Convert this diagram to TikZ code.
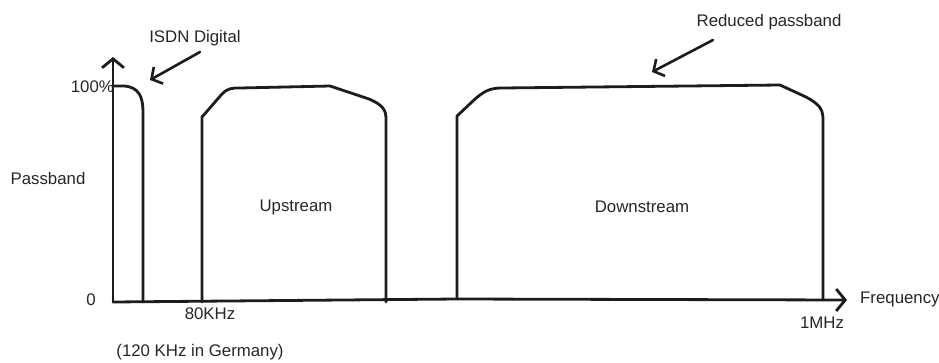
\documentclass[tikz,border=0pt]{standalone}
\usepackage{fontspec}
\setmainfont{Liberation Sans}
\usetikzlibrary{arrows.meta}
\definecolor{ink}{HTML}{1C1C1C}
\definecolor{txt}{HTML}{262626}
\tikzset{
  curve/.style={draw=ink, line width=2.8pt, line join=round, line cap=round},
  axisline/.style={draw=ink, line width=2.8pt, line cap=round, line join=round, -{Straight Barb[length=9pt,width=22pt]}},
  pointer/.style={draw=ink, line width=2.6pt, line cap=round, -{Straight Barb[length=8pt,width=19pt]}},
  lbl/.style={text=txt, inner sep=0pt, font=\fontsize{16.8}{19}\selectfont},
}
\begin{document}
\begin{tikzpicture}[x=1pt,y=-1pt]
\useasboundingbox (0,0) rectangle (939,362);
% axes
\coordinate (origin) at (113,302);
\coordinate (ytip) at (113,57);
\coordinate (xtip) at (847,300);
\coordinate (xb) at (457,299);
\draw[axisline] (origin) -- (ytip);
\draw[axisline] (origin) -- (xb) -- (xtip);
% ISDN band
\draw[curve] (113,86) -- (124,86) .. controls (139,87) and (143,97) .. (143,112) -- (143,302);
% Upstream band
\draw[curve] (202,302) -- (202,117) -- (222,94) .. controls (228,88) and (232,88) .. (240,88) -- (330,86) -- (369,99) .. controls (383,105) and (386,110) .. (386,119) -- (386,302);
% Downstream band
\draw[curve] (457,299) -- (457,116) -- (474,100) .. controls (484,91) and (490,88) .. (502,88) -- (780,85) -- (806,97) .. controls (819,104) and (823,109) .. (823,119) -- (823,300);
% labels
\node[lbl] (isdn) at (195,38) {ISDN Digital};
\node[lbl] (reduced) at (769,22) {Reduced passband};
\node[lbl, anchor=east] (hundred) at (114,87) {100\%};
\node[lbl] (passband) at (48,178) {Passband};
\node[lbl] (zero) at (91,300) {0};
\node[lbl] (upstream) at (296,207) {Upstream};
\node[lbl] (downstream) at (642,207) {Downstream};
\node[lbl] (khz80) at (210,314) {80KHz};
\node[lbl] (germany) at (200,352) {(120 KHz in Germany)};
\node[lbl] (mhz) at (822,323) {1MHz};
\node[lbl, anchor=west] (freq) at (860,299) {Frequency};
% pointers
\coordinate (isdnfrom) at (200,52);
\coordinate (isdntip) at (150,80);
\coordinate (redfrom) at (713,40);
\coordinate (redtip) at (652,72);
\draw[pointer] (isdnfrom) -- (isdntip);
\draw[pointer] (redfrom) -- (redtip);
\end{tikzpicture}
\end{document}
